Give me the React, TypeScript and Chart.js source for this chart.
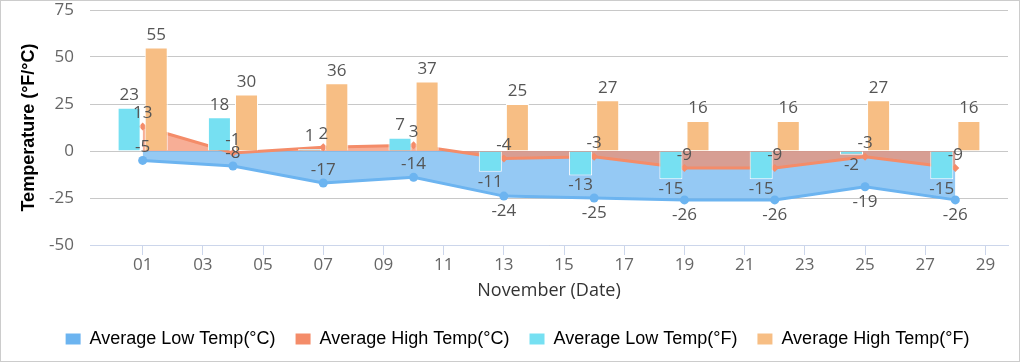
import React, { useEffect, useRef } from 'react';
import { Chart, registerables } from 'chart.js';

Chart.register(...registerables);

// ---- data ----
const days = [1, 4, 7, 10, 13, 16, 19, 22, 25, 28];
const lowC = [-5, -8, -17, -14, -24, -25, -26, -26, -19, -26];
const highC = [13, -1, 2, 3, -4, -3, -9, -9, -3, -9];
const lowF = [23, 18, 1, 7, -11, -13, -15, -15, -2, -15];
const highF = [55, 30, 36, 37, 25, 27, 16, 16, 27, 16];
const xTicks = [1, 3, 5, 7, 9, 11, 13, 15, 17, 19, 21, 23, 25, 27, 29];
const seriesNames = [
  'Average Low Temp(°C)',
  'Average High Temp(°C)',
  'Average Low Temp(°F)',
  'Average High Temp(°F)',
];
const yTitle = 'Temperature (°F/°C)';
const xTitle = 'November (Date)';

// ---- styles ----
const BLUE = 'rgb(108,180,240)';
const BLUE_FILL = 'rgba(108,180,240,0.72)';
const SALMON = 'rgb(244,140,105)';
const SALMON_FILL = 'rgba(244,140,105,0.7)';
const CYAN = 'rgb(118,224,242)';
const ORANGE = 'rgb(247,190,132)';
const solidColors = [BLUE, SALMON, CYAN, ORANGE];
const LABEL_FONT = '"Open Sans", "Noto Sans", sans-serif';
const LEGEND_SHIFT = 13;

const toPoints = (vals: number[]) => days.map((d, i) => ({ x: d, y: vals[i] }));

const valueLabels = {
  id: 'valueLabels',
  afterLayout(chart: any) {
    const lg = chart.legend;
    if (lg) {
      lg.left += LEGEND_SHIFT;
      lg.right += LEGEND_SHIFT;
    }
  },
  afterDatasetsDraw(chart: any) {
    const ctx = chart.ctx;
    ctx.save();
    ctx.font = '17px ' + LABEL_FONT;
    ctx.fillStyle = '#555555';
    ctx.textAlign = 'center';
    ctx.textBaseline = 'middle';
    const sets = [lowC, highC, lowF, highF];
    sets.forEach((vals, di) => {
      const meta = chart.getDatasetMeta(di);
      meta.data.forEach((el: any, i: number) => {
        const v = vals[i];
        let y: number;
        if (di === 0) y = lowF[i] >= 0 ? el.y - 13 : el.y + 15;
        else if (di === 1) y = el.y - 13;
        else y = v >= 0 ? el.y - 12.5 : el.y + 10;
        ctx.fillText(String(v), el.x, y);
      });
    });
    ctx.restore();
  },
};

export default function App() {
  const canvasRef = useRef<HTMLCanvasElement | null>(null);

  useEffect(() => {
    document.body.style.margin = '0';
    const canvas = canvasRef.current;
    if (!canvas) return;
    const chart = new Chart(canvas, {
      type: 'bar',
      data: {
        datasets: [
          {
            type: 'line',
            label: seriesNames[0],
            data: toPoints(lowC),
            borderColor: BLUE,
            backgroundColor: BLUE_FILL,
            borderWidth: 3,
            pointRadius: 4.5,
            pointBackgroundColor: BLUE,
            pointBorderColor: BLUE,
            pointBorderWidth: 0,
            fill: 'origin',
            tension: 0,
            order: 3,
          },
          {
            type: 'line',
            label: seriesNames[1],
            data: toPoints(highC),
            borderColor: SALMON,
            backgroundColor: SALMON_FILL,
            borderWidth: 3,
            pointRadius: 4,
            pointStyle: 'rectRot',
            pointBackgroundColor: SALMON,
            pointBorderColor: SALMON,
            pointBorderWidth: 0,
            fill: 'origin',
            tension: 0,
            order: 2,
          },
          {
            type: 'bar',
            label: seriesNames[2],
            data: toPoints(lowF),
            backgroundColor: CYAN,
            borderColor: '#ffffff',
            borderWidth: 1,
            categoryPercentage: 0.9,
            barPercentage: 0.85,
            order: 1,
          },
          {
            type: 'bar',
            label: seriesNames[3],
            data: toPoints(highF),
            backgroundColor: ORANGE,
            borderColor: '#ffffff',
            borderWidth: 1,
            categoryPercentage: 0.9,
            barPercentage: 0.85,
            order: 1,
          },
        ],
      } as any,
      options: {
        responsive: false,
        animation: false,
        layout: { padding: { top: 9, right: 11, left: 0, bottom: 3 } },
        plugins: {
          tooltip: { enabled: false },
          legend: {
            position: 'bottom',
            labels: {
              font: { family: '"Liberation Sans", Arial, sans-serif', size: 18 },
              color: '#000000',
              boxWidth: 15,
              boxHeight: 11,
              padding: 20,
              sort: (a: any, b: any) => a.datasetIndex - b.datasetIndex,
              generateLabels: (chart: any) => {
                const items = Chart.defaults.plugins.legend.labels.generateLabels(chart);
                return items.map((it: any) => ({
                  ...it,
                  fillStyle: solidColors[it.datasetIndex],
                  strokeStyle: 'rgba(0,0,0,0)',
                  lineWidth: 0,
                  pointStyle: undefined,
                }));
              },
            },
          },
        },
        scales: {
          x: {
            type: 'linear',
            min: -0.75,
            max: 29.75,
            offset: false,
            afterBuildTicks: (scale: any) => {
              scale.ticks = xTicks.map((v) => ({ value: v }));
            },
            afterFit: (scale: any) => {
              scale.height = 65;
            },
            ticks: {
              padding: 0,
              autoSkip: false,
              maxRotation: 0,
              color: '#666666',
              font: { family: LABEL_FONT, size: 17 },
              callback: (v: any) => String(v).padStart(2, '0'),
            },
            grid: {
              offset: false,
              drawOnChartArea: false,
              drawTicks: true,
              tickLength: 10,
              color: '#ccd6eb',
            },
            border: { display: true, color: '#ccd6eb', width: 1 },
            title: {
              display: true,
              text: xTitle,
              color: '#333333',
              font: { family: LABEL_FONT, size: 18 },
              padding: { top: 0, bottom: 8 },
            },
          },
          y: {
            min: -50,
            max: 75,
            afterFit: (scale: any) => {
              scale.width = 89;
            },
            ticks: {
              stepSize: 25,
              padding: 0,
              color: '#666666',
              font: { family: LABEL_FONT, size: 17, lineHeight: 1 },
            },
            grid: {
              color: '#c8c8c8',
              drawTicks: true,
              tickLength: 16,
              tickColor: 'rgba(0,0,0,0)',
            },
            border: { display: false },
            title: {
              display: true,
              text: yTitle,
              color: '#000000',
              font: { family: '"Liberation Sans", Arial, sans-serif', size: 18, weight: 'bold' },
              padding: { top: 17, bottom: 0 },
            },
          },
        },
      } as any,
      plugins: [valueLabels],
    });
    return () => chart.destroy();
  }, []);

  return (
    <div
      style={{
        width: 1020,
        height: 362,
        boxSizing: 'border-box',
        border: '1px solid #cccccc',
        background: '#ffffff',
      }}
    >
      <canvas ref={canvasRef} width={1018} height={360} style={{ display: 'block' }} />
    </div>
  );
}
